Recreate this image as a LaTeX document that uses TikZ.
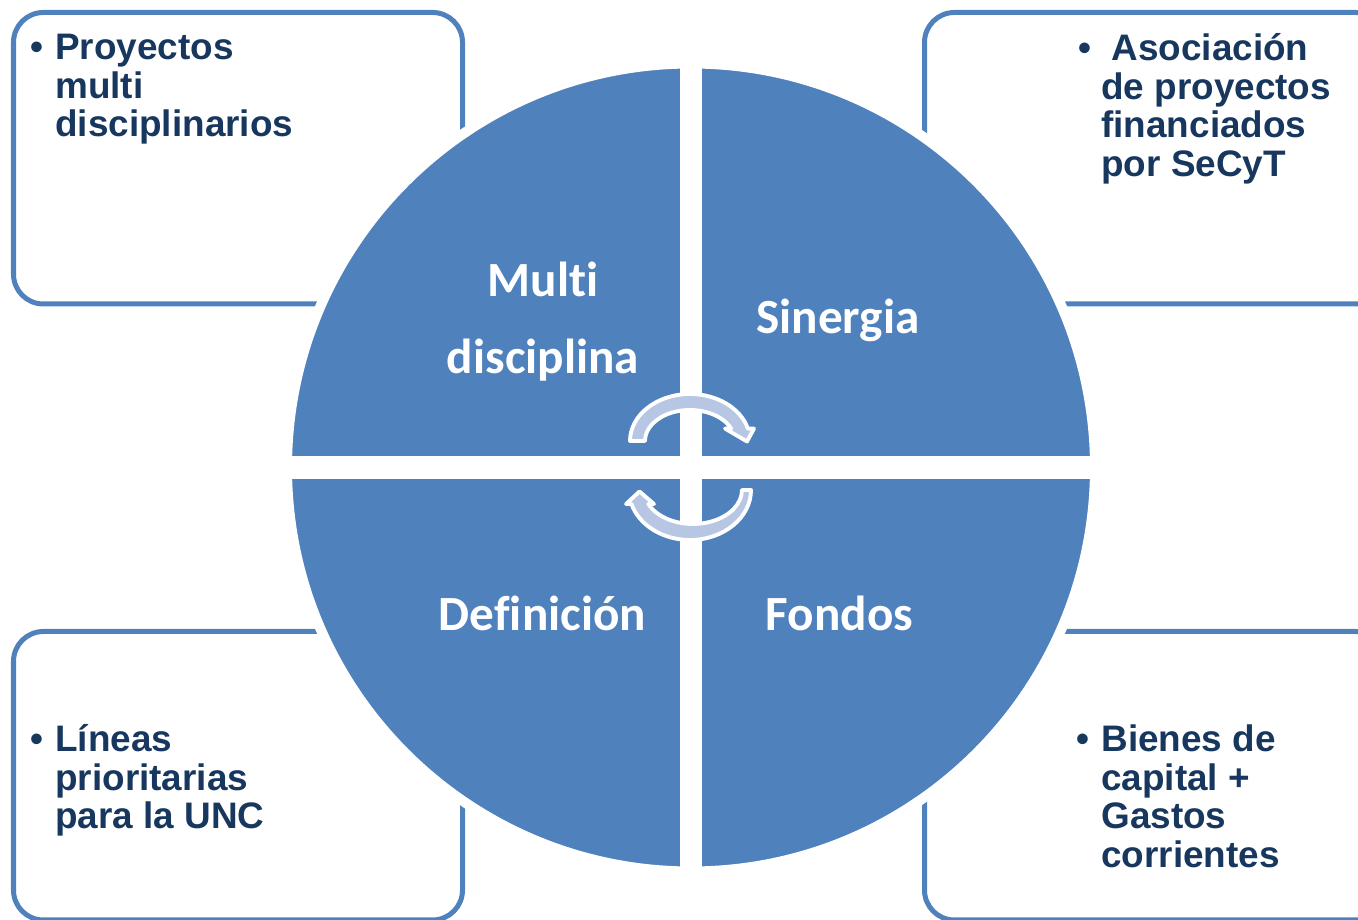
\documentclass[tikz,border=0pt]{standalone}
\usepackage{fontspec}
\setmainfont{Liberation Sans}
\newfontfamily\calibri[Ligatures=NoCommon]{Carlito}
\usetikzlibrary{positioning}
\definecolor{mblue}{RGB}{79,129,189}
\definecolor{navy}{RGB}{23,55,94}
\definecolor{lblue}{RGB}{183,198,226}
\tikzset{panel/.style = {draw=mblue, line width=2.85pt, rounded corners=17pt}}
\tikzset{bulletdot/.style = {anchor=base west, inner sep=0, text=navy,
                             font=\bfseries\fontsize{21}{21.9}\selectfont}}
\tikzset{listtext/.style = {bulletdot}}
\tikzset{quadlabel/.style = {text=white, inner sep=0, align=center,
                             font=\calibri\bfseries\fontsize{28}{43.8}\selectfont}}
\tikzset{cyclearrow/.style = {fill=lblue, draw=white, line width=2.2pt, line join=round}}

\begin{document}
\begin{tikzpicture}[x=0.02cm, y=0.02cm]
    \useasboundingbox (0,0) rectangle (1358,919);
    \clip (0,0) rectangle (1358,919);

    \draw [panel] (13.5,615) rectangle (462.5,906.5);
    \draw [panel] (924.5,615) rectangle (1385,906.5);
    \draw [panel] (13.5,-1) rectangle (462.5,287.5);
    \draw [panel] (924.5,-1) rectangle (1385,287.5);

    \coordinate (c) at (691,451.5);
    \filldraw [fill=mblue, draw=white, line width=5.7pt] (c) circle [radius=404];
    \draw [white, line width=12.5pt] (691,40) -- (691,863);
    \draw [white, line width=13pt] (280,451.5) -- (1102,451.5);

    \node [quadlabel] (multi) at (543,597.5) {Multi\\disciplina};
    \node [quadlabel, anchor=base] (sinergia) at (838,585) {Sinergia};
    \node [quadlabel, anchor=base] (definicion) at (542.5,288) {Definición};
    \node [quadlabel, anchor=base] (fondos) at (839.5,288) {Fondos};

    \filldraw [cyclearrow] (630,478) arc [start angle=180, end angle=15.3, x radius=60, y radius=47]
        -- (754,490.4) -- (747,477.5) -- (725,490.4) -- (731.2,490.4)
        arc [start angle=23.58, end angle=180, x radius=45, y radius=31] -- cycle;
    \filldraw [cyclearrow] (751,429) arc [start angle=0, end angle=-163.74, x radius=61, y radius=50]
        -- (626,415) -- (639.5,427.5) -- (654,415) -- (648.3,415)
        arc [start angle=-155.68, end angle=0, x radius=49, y radius=34] -- cycle;

    \node [bulletdot] (b1) at (30,859) {•};
    \node [listtext] (t1) at (55,859) {\parbox[t]{8cm}{\raggedright Proyectos\\multi\\disciplinarios}};
    \node [bulletdot] (b2) at (1078,858) {•};
    \node [listtext] (t2) at (1101,858) {\parbox[t]{8cm}{\raggedright ~Asociación\\de proyectos\\financiados\\por SeCyT}};
    \node [bulletdot] (b3) at (30,167) {•};
    \node [listtext] (t3) at (55,167) {\parbox[t]{8cm}{\raggedright Líneas\\prioritarias\\para la UNC}};
    \node [bulletdot] (b4) at (1076,167) {•};
    \node [listtext] (t4) at (1101,167) {\parbox[t]{8cm}{\raggedright Bienes de\\capital +\\Gastos\\corrientes}};
\end{tikzpicture}
\end{document}
